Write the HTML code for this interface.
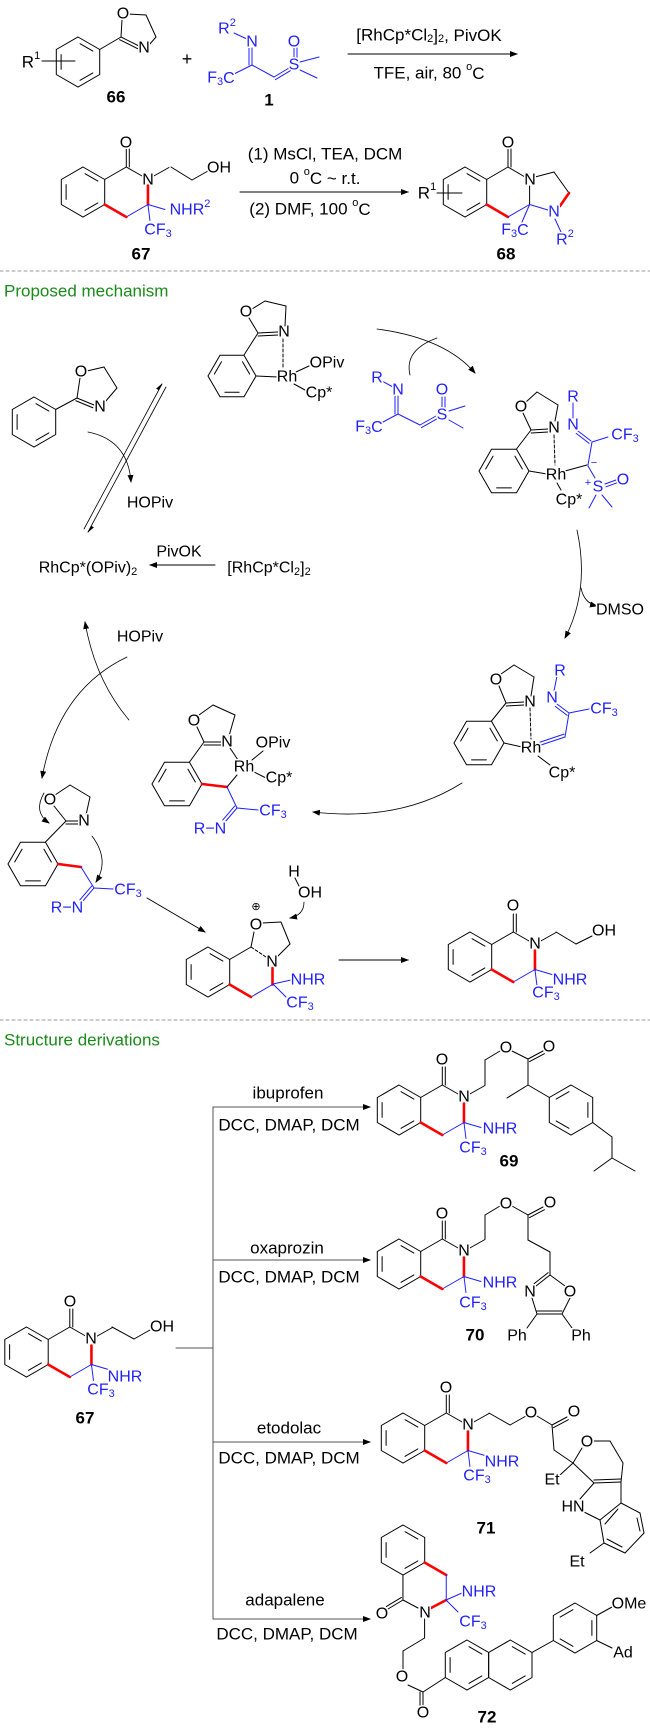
<!DOCTYPE html>
<html><head><meta charset="utf-8">
<style>
html,body{margin:0;padding:0;background:#fff;}
svg{display:block;}
text{font-family:"Liberation Sans Narrow","Liberation Sans",Arial,sans-serif;font-size:16px;dominant-baseline:central;text-anchor:middle;paint-order:stroke;stroke:#fff;stroke-width:3px;stroke-linejoin:round;}
.b{fill:#1f1fff;}
.bold{font-weight:bold;font-size:17px;}
.g{fill:#1a8a1a;text-anchor:start;font-size:17px;}
.r{font-size:17px;}
.s{font-size:11px;}
</style></head><body>
<svg id="s" width="650" height="1732" viewBox="0 0 650 1732" xmlns="http://www.w3.org/2000/svg">
<defs><marker id="ah" markerWidth="8" markerHeight="6" refX="7" refY="3" orient="auto" markerUnits="userSpaceOnUse"><path d="M0,0 L8,3 L0,6 Z" fill="#000"/></marker>
<marker id="hh" markerWidth="8" markerHeight="4" refX="7" refY="3" orient="auto" markerUnits="userSpaceOnUse"><path d="M0,0 L8,3 L0,3 Z" fill="#000"/></marker></defs>
<g id="g" fill="none" stroke-linecap="round"></g>

<!-- TOP -->
<text x="31" y="62" class="r">R<tspan class="s" dy="-6">1</tspan></text>
<text x="123" y="14">O</text><text x="144" y="48">N</text>
<text x="116" y="97" class="bold">66</text>
<text x="187" y="59" style="font-size:18px">+</text>
<text x="227" y="29" class="b">R<tspan class="s" dy="-6">2</tspan></text>
<text x="252" y="42" class="b">N</text>
<text x="221" y="78" class="b">F<tspan class="s" dy="4">3</tspan><tspan dy="-4">C</tspan></text>
<text x="294" y="65" class="b">S</text><text x="294" y="42" class="b">O</text>
<text x="269" y="100" class="bold">1</text>
<text x="429" y="35" class="r">[RhCp*Cl<tspan class="s" dy="4">2</tspan><tspan dy="-4">]</tspan><tspan class="s" dy="4">2</tspan><tspan dy="-4">, PivOK</tspan></text>
<text x="429" y="73" class="r">TFE, air,  80 <tspan class="s" dy="-6">o</tspan><tspan dy="6">C</tspan></text>

<text x="126" y="143">O</text><text x="148" y="180">N</text><text x="219" y="168">OH</text>
<text x="190" y="210" class="b">NHR<tspan class="s" dy="-6">2</tspan></text>
<text x="158" y="230" class="b">CF<tspan class="s" dy="4">3</tspan></text>
<text x="141" y="254" class="bold">67</text>
<text x="325" y="154" class="r">(1) MsCl, TEA, DCM</text>
<text x="325" y="178" class="r">0 <tspan class="s" dy="-6">o</tspan><tspan dy="6">C ~ r.t.</tspan></text>
<text x="310" y="209" class="r">(2) DMF, 100 <tspan class="s" dy="-6">o</tspan><tspan dy="6">C</tspan></text>
<text x="427" y="193" class="r">R<tspan class="s" dy="-6">1</tspan></text>
<text x="508" y="143">O</text><text x="530" y="180">N</text>
<text x="554" y="212" class="b">N</text>
<text x="515" y="230" class="b">F<tspan class="s" dy="4">3</tspan><tspan dy="-4">C</tspan></text>
<text x="565" y="240" class="b">R<tspan class="s" dy="-6">2</tspan></text>
<text x="506" y="254" class="bold">68</text>
<text x="4" y="291" class="g">Proposed mechanism</text>

<!-- MECHANISM -->
<text x="246" y="312">O</text><text x="284" y="332">N</text><text x="287" y="377">Rh</text>
<text x="327" y="363">OPiv</text><text x="319" y="393">Cp*</text>
<text x="81" y="372">O</text><text x="100" y="407">N</text>
<text x="150" y="503">HOPiv</text>
<text x="88" y="568">RhCp*(OPiv)<tspan class="s" dy="4">2</tspan></text>
<text x="179" y="552">PivOK</text>
<text x="269" y="568">[RhCp*Cl<tspan class="s" dy="4">2</tspan><tspan dy="-4">]</tspan><tspan class="s" dy="4">2</tspan></text>
<text x="377" y="378" class="b">R</text><text x="398" y="390" class="b">N</text>
<text x="369" y="427" class="b">F<tspan class="s" dy="4">3</tspan><tspan dy="-4">C</tspan></text>
<text x="442" y="415" class="b">S</text><text x="442" y="390" class="b">O</text>

<text x="521" y="407">O</text><text x="554" y="428">N</text><text x="556" y="475">Rh</text><text x="569" y="500">Cp*</text>
<text x="573" y="397" class="b">R</text><text x="573" y="425" class="b">N</text>
<text x="625" y="435" class="b">CF<tspan class="s" dy="4">3</tspan></text>
<text x="594" y="463" class="b s">−</text><text x="588" y="483" class="b s">+</text>
<text x="598" y="487" class="b">S</text><text x="623" y="480" class="b">O</text>
<text x="620" y="610">DMSO</text>

<text x="496" y="680">O</text><text x="530" y="702">N</text><text x="531" y="748">Rh</text><text x="562" y="773">Cp*</text>
<text x="560" y="671" class="b">R</text><text x="552" y="698" class="b">N</text>
<text x="604" y="709" class="b">CF<tspan class="s" dy="4">3</tspan></text>
<text x="140" y="637">HOPiv</text>

<text x="194" y="721">O</text><text x="227" y="742">N</text><text x="244" y="767">Rh</text>
<text x="273" y="743">OPiv</text><text x="279" y="778">Cp*</text>
<text x="273" y="811" class="b">CF<tspan class="s" dy="4">3</tspan></text>
<text x="210" y="829" class="b">R−N</text>

<text x="50" y="800">O</text><text x="84" y="821">N</text>
<text x="128" y="890" class="b">CF<tspan class="s" dy="4">3</tspan></text>
<text x="67" y="908" class="b">R−N</text>

<text x="256" y="907" class="s" style="stroke-width:0">⊕</text>
<text x="256" y="925">O</text><text x="272" y="962">N</text>
<text x="308" y="980" class="b">NHR</text>
<text x="300" y="1003" class="b">CF<tspan class="s" dy="4">3</tspan></text>
<text x="294" y="872">H</text><text x="310" y="893">OH</text>

<text x="513" y="906">O</text><text x="535" y="944">N</text><text x="604" y="931">OH</text>
<text x="570" y="980" class="b">NHR</text>
<text x="546" y="993" class="b">CF<tspan class="s" dy="4">3</tspan></text>

<text x="4" y="1040" class="g">Structure derivations</text>

<!-- DERIVATIONS -->
<text x="288" y="1093" class="r">ibuprofen</text><text x="289" y="1125" class="r">DCC, DMAP, DCM</text>
<text x="287" y="1248" class="r">oxaprozin</text><text x="289" y="1277" class="r">DCC, DMAP, DCM</text>
<text x="289" y="1428" class="r">etodolac</text><text x="289" y="1458" class="r">DCC, DMAP, DCM</text>
<text x="285" y="1600" class="r">adapalene</text><text x="287" y="1634" class="r">DCC, DMAP, DCM</text>

<text x="70" y="1302">O</text><text x="91" y="1339">N</text><text x="162" y="1327">OH</text>
<text x="125" y="1377" class="b">NHR</text>
<text x="101" y="1390" class="b">CF<tspan class="s" dy="4">3</tspan></text>
<text x="85" y="1418" class="bold">67</text>

<text x="442" y="1060">O</text><text x="464" y="1097">N</text>
<text x="500" y="1129" class="b">NHR</text>
<text x="473" y="1148" class="b">CF<tspan class="s" dy="4">3</tspan></text>
<text x="509" y="1161" class="bold">69</text>
<text x="506" y="1048">O</text><text x="549" y="1047">O</text>

<text x="442" y="1214">O</text><text x="464" y="1251">N</text>
<text x="506" y="1204">O</text><text x="550" y="1203">O</text>
<text x="500" y="1283" class="b">NHR</text>
<text x="473" y="1303" class="b">CF<tspan class="s" dy="4">3</tspan></text>
<text x="530" y="1292">N</text><text x="570" y="1292">O</text>
<text x="517" y="1336">Ph</text><text x="581" y="1336">Ph</text>
<text x="475" y="1335" class="bold">70</text>

<text x="446" y="1388">O</text><text x="468" y="1425">N</text>
<text x="502" y="1462" class="b">NHR</text>
<text x="477" y="1476" class="b">CF<tspan class="s" dy="4">3</tspan></text>
<text x="531" y="1413">O</text><text x="574" y="1412">O</text><text x="587" y="1442">O</text>
<text x="552" y="1480">Et</text><text x="573" y="1507">HN</text><text x="577" y="1562">Et</text>
<text x="486" y="1528" class="bold">71</text>

<text x="479" y="1592" class="b">NHR</text>
<text x="473" y="1622" class="b">CF<tspan class="s" dy="4">3</tspan></text>
<text x="382" y="1614">O</text><text x="425" y="1613">N</text>
<text x="402" y="1677">O</text><text x="423" y="1713">O</text>
<text x="629" y="1604">OMe</text><text x="623" y="1653">Ad</text>
<text x="487" y="1717" class="bold">72</text>
</svg>
<script>
(function(){
var G=document.getElementById('g'),NS='http://www.w3.org/2000/svg';
var BL='#1f1fff',RD='#ff0000';
function el(t,a){var e=document.createElementNS(NS,t);for(var k in a)e.setAttribute(k,a[k]);G.appendChild(e);return e;}
function L(a,b,c,d,col,w,da){var o={x1:a,y1:b,x2:c,y2:d,stroke:col||'#000','stroke-width':w||1};if(da)o['stroke-dasharray']=da;el('line',o);}
function B(a,b,c,d){L(a,b,c,d,BL,1);}
function R(a,b,c,d){L(a,b,c,d,RD,2.6);}
function DS(a,b,c,d){L(a,b,c,d,'#000',1,'3,2');}
function D(a,b,c,d,col){L(a,b,c,d,col);var dx=c-a,dy=d-b,l=Math.hypot(dx,dy),px=-dy/l*3,py=dx/l*3;L(a+px,b+py,c+px,d+py,col);}
function ring(cx,cy,r,flat,inner){var v=[];for(var i=0;i<6;i++){var an=(flat?0:-90)+60*i;an*=Math.PI/180;v.push([cx+r*Math.cos(an),cy+r*Math.sin(an)]);}
 var p='M'+v.map(function(q){return q[0].toFixed(1)+','+q[1].toFixed(1)}).join('L')+'Z';el('path',{d:p,stroke:'#000','stroke-width':1,fill:'none'});
 (inner||[0,2,4]).forEach(function(i){var a=v[i],b=v[(i+1)%6],f=0.78;var a2=[cx+(a[0]-cx)*f,cy+(a[1]-cy)*f],b2=[cx+(b[0]-cx)*f,cy+(b[1]-cy)*f];
  var t=0.12,x1=a2[0]+(b2[0]-a2[0])*t,y1=a2[1]+(b2[1]-a2[1])*t,x2=b2[0]-(b2[0]-a2[0])*t,y2=b2[1]-(b2[1]-a2[1])*t;L(x1,y1,x2,y2);});return v;}
function poly(pts,col){for(var i=0;i<pts.length-1;i++)L(pts[i][0],pts[i][1],pts[i+1][0],pts[i+1][1],col);}
function arr(a,b,c,d,col){el('line',{x1:a,y1:b,x2:c,y2:d,stroke:col||'#000','stroke-width':1,'marker-end':'url(#ah)'});}
function cq(d,m){el('path',{d:d,stroke:'#000','stroke-width':0.8,fill:'none','marker-end':m||'url(#ah)'});}
function iq(cx,cy,chain){ring(cx,cy,25,0,[2,4,0]);var V1=[cx+21.65,cy-12.5],V2=[cx+21.65,cy+12.5],C1=[cx+43.3,cy-25],N=[cx+64.95,cy-12.5],C3=[cx+64.95,cy+12.5],CH=[cx+43.3,cy+25];
 L(V1[0],V1[1],C1[0],C1[1]);D(C1[0],C1[1],C1[0],C1[1]-18);L(C1[0],C1[1],N[0]-5,N[1]-3);R(N[0],N[1]+6,C3[0],C3[1]);B(C3[0],C3[1],CH[0],CH[1]);R(CH[0],CH[1],V2[0],V2[1]);
 B(C3[0],C3[1],C3[0]+17,C3[1]+5);B(C3[0],C3[1],C3[0]+2,C3[1]+16);if(chain!==false)L(N[0]+5,N[1]-3,N[0]+21,N[1]-12);}

ring(78,62,25,0,[0,2,4]);L(42,61,75,61);
L(99.7,49.5,121,37);L(121,37,122,20);L(128,14,146,15);L(146,15,156,37);L(156,37,149,45);D(121,37,139,46);
B(234,33,247,39);D(252,48,252,65,BL);B(252,65,234,74);B(252,65,274,77);D(274,77,289,68,BL);D(294,58,294,48,BL);B(300,62,319,57);B(300,70,317,78);
arr(348,54,517,54);
iq(83,192);L(171,167,192,180);L(192,180,208,171);
arr(240,192,408,192);
L(437,193,462,193);ring(465,192,25,0,[2,4,0]);
L(486.6,179.5,508,167);D(508,167,508,149);L(508,167,525,177);L(529.6,186,529.6,204.5);R(508,217,486.6,204.5);B(529.6,204.5,508,217);
L(535,177,554,172);L(554,172,569,193);R(569,193,560,206);B(548,210,529.6,204.5);B(555,219,561,232);B(529.6,204.5,522,222);
L(0,271,650,271,'#999',1,'3,3');

ring(232,376,24,1,[1,3,5]);L(244,355,258,333);L(258,333,249,318);L(252,309,265,301);L(265,301,286,306);L(286,306,285,326);D(258,333,278,332);
DS(283,339,283,368);L(256,376,278,377);L(296,372,309,366);L(294,384,305,390);
ring(34,422,25,0,[0,2,4]);L(55.6,409.5,77,398);L(77,398,80,378);L(87,371,104,367);L(104,367,117,388);L(117,388,105,402);D(77,398,94,405);
cq('M88,432 Q128,440 131,482');
el('line',{x1:166,y1:387,x2:88,y2:532,stroke:'#000','stroke-width':0.8,'marker-end':'url(#hh)'});
el('line',{x1:84,y1:529,x2:162,y2:384,stroke:'#000','stroke-width':0.8,'marker-end':'url(#hh)'});
arr(215,565,150,565);
cq('M377,329 Q445,338 475,373');el('path',{d:'M410,375 Q404,350 437,338',stroke:'#000','stroke-width':0.8,fill:'none'});
B(382,381,393,387);D(398,396,398,414,BL);B(398,414,383,422);B(398,414,420,425);D(420,425,436,416,BL);D(442,407,442,397,BL);B(449,411,465,406);B(449,420,463,428);
ring(504,471,25,1,[1,3,5]);L(516.5,449,531,430);L(531,430,523,413);L(526,402,537,392);L(537,392,558,405);L(558,405,555,421);D(531,430,548,429);
DS(554,435,555,465);L(529,471,547,474);L(557,483,561,490);
B(573,403,573,418);D(578,431,591,441,BL);B(592,442,608,437);B(592,442,588,465);L(565,471,587,465);B(588,466,595,478);D(605,484,616,480,BL);B(596,495,589,508);B(602,495,612,507);
cq('M577,530 Q590,590 565,638');cq('M581,588 Q584,603 597,606');
ring(479,743,25,1,[1,3,5]);L(491.5,721,506,703);L(506,703,499,686);L(501,674,514,665);L(514,665,534,677);L(534,677,531,696);D(506,703,524,702);
DS(530,708,531,739);L(504,743,522,747);L(538,756,550,765);
B(557,676,554,691);D(557,704,569,713,BL);B(569,713,589,709);B(569,713,565,737);D(565,737,541,745,BL);
cq('M462,783 Q400,822 313,812');
cq('M129,720 Q95,680 85,622');cq('M127,657 Q58,690 42,778');
ring(177,784,25,1,[1,3,5]);L(189.5,762,204,742);L(204,742,197,727);L(199,715,213,705);L(213,705,235,715);L(235,715,229,736);D(204,742,221,742);
L(230,748,238,760);L(252,760,263,751);L(254,772,266,778);R(202,784,227,787);L(227,787,237,775);B(227,787,237,808);D(237,808,225,822,BL);B(237,808,258,810);
ring(33,864,25,1,[1,3,5]);L(45.5,842,66,821);L(66,821,54,806);L(55,795,70,785);L(70,785,90,797);L(90,797,86,815);D(66,821,78,821);
R(58,864,81,867);B(81,867,94,888);B(94,888,113,889);D(94,888,82,902,BL);
cq('M44,793 Q33,812 49,823');cq('M92,836 Q110,860 96,882');
arr(147,898,205,932);
ring(208,972,25,0,[2,4,0]);L(229.6,959.5,251,947);L(251,947,254,932);DS(251,947,266,957);R(272.5,968,272.5,984.5);B(272.5,984.5,251,997);R(251,997,229.6,984.5);
L(262,923,281,922);L(281,922,290,944);L(290,944,278,956);B(273,984,291,980);B(273,984,286,997);L(295,878,299,886);
cq('M304,902 Q304,915 290,918');
arr(339,960,408,960);
iq(470,957);L(556,932,576,944);L(576,944,592,936);
L(0,1020,650,1020,'#999',1,'3,3');

L(176,1348,213,1348,'#555');L(213,1107,213,1619,'#555');
[1107,1260,1442,1619].forEach(function(y){arr(213,y,370,y,'#555');});
iq(26.5,1352);L(112,1327,134,1339);L(134,1339,150,1330);
iq(399,1110);L(485,1085,485,1060);L(485,1060,500,1051);L(512,1051,528,1059);D(528,1059,543,1051);L(528,1059,528,1085);L(528,1085,507,1098);L(528,1085,549.4,1097.5);
ring(571,1110,25,0,[1,3,5]);L(592.6,1122.5,612,1137);L(612,1137,612,1158);L(612,1158,594,1171);L(612,1158,635,1171);
iq(399,1264);L(485,1239,485,1215);L(485,1215,500,1206);L(512,1206,528,1215);D(528,1215,543,1207);L(528,1215,528,1240);L(528,1240,550,1252);L(550,1252,550,1275);
L(550,1275,565,1286);L(570,1298,562,1314);D(562,1314,537,1314);L(537,1314,532,1298);D(550,1275,536,1286);L(537,1314,527,1328);L(562,1314,572,1328);
iq(403,1438);L(510,1425,526,1416);L(489,1413,510,1425);L(537,1416,552,1425);D(552,1425,567,1417);L(552,1425,554,1450);L(554,1450,573,1463);L(573,1463,582,1448);
L(593,1441,610,1441);L(610,1441,623,1463);L(623,1463,621,1482);D(621,1482,594,1483);L(594,1483,573,1463);L(573,1463,560,1475);L(594,1483,580,1499);L(584,1512,600,1520);
L(621,1482,621,1503);
poly([[621,1503],[640,1513],[644,1533],[625,1553],[604,1543],[600,1520],[621,1503]]);L(637,1518,640,1531);L(622,1547,607,1539);L(605,1524,618,1509);L(604,1543,590,1553);
ring(403,1550,25,0,[0,2,4]);R(424.6,1562.5,446.25,1575);B(446.25,1575,446.25,1600);R(446.25,1600,431,1608);L(418,1608,402.95,1600);L(402.95,1600,402.95,1575);D(402.95,1600,388,1609);
B(446,1600,462,1593);B(446,1600,458,1612);L(424.6,1619,424.6,1638);L(424.6,1638,403,1651);L(403,1651,403,1670);L(408,1685,423,1692);D(423,1692,423,1706);L(423,1692,445.4,1677.5);
ring(467,1665,25,0,[4,0,2]);ring(510.3,1665,25,0,[0,2]);L(531.95,1652.5,553.4,1640.5);ring(575,1628,25,0,[1,3,5]);L(596.6,1615.5,612,1607);L(596.6,1640.5,612,1648);
})();
</script>
</body></html>
